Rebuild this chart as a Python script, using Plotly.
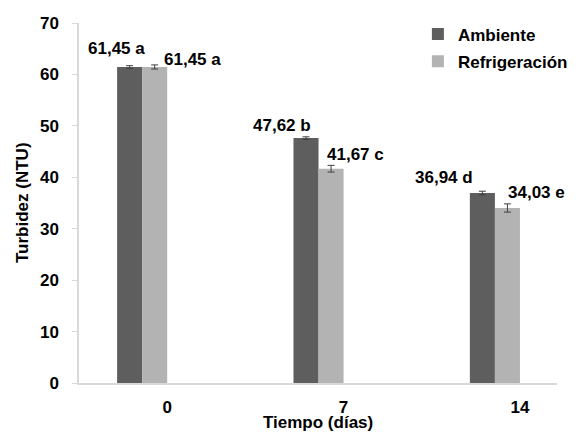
import plotly.graph_objects as go

# ---- data ----
categories = ["0", "7", "14"]
ambiente = [61.45, 47.62, 36.94]
refrigeracion = [61.45, 41.67, 34.03]
err_ambiente = [0.25, 0.25, 0.35]
err_refrigeracion = [0.4, 0.65, 0.8]
letters_ambiente = ["a", "b", "d"]
letters_refrigeracion = ["a", "c", "e"]
series_names = ["Ambiente", "Refrigeración"]
x_title = "Tiempo (días)"
y_title = "Turbidez (NTU)"

# ---- style / layout constants ----
FONT = "Liberation Sans, Arial, sans-serif"
DARK = "#5e5e5e"
LIGHT = "#b3b3b3"
AXIS = "#d9d9d9"
BW = 0.142  # bar width in category units

# label offsets in pixels (xshift, yshift) relative to (category, value)
amb_shift = [(-51, 18), (-62, 13), (-76, 16)]
ref_shift = [(25, 7), (12, 14), (16.5, 15)]


def fmt(v):
    return f"{v:.2f}".replace(".", ",")


bold = dict(family=FONT, size=17, color="black", weight="bold")

fig = go.Figure()
fig.add_trace(go.Bar(
    x=categories, y=ambiente, name=series_names[0], legendgroup="a",
    marker=dict(color=DARK, line=dict(width=0)),
    width=BW, offset=-2 * BW,
    error_y=dict(type="data", array=err_ambiente, color="#404040", thickness=1, width=3.5),
))
fig.add_trace(go.Bar(
    x=categories, y=refrigeracion, name=series_names[1], legendgroup="r",
    marker=dict(color=LIGHT, line=dict(width=0)),
    width=BW, offset=-BW,
    error_y=dict(type="data", array=err_refrigeracion, color="#404040", thickness=1, width=3.5),
))

annotations = []
for i, (v, l, (dx, dy)) in enumerate(zip(ambiente, letters_ambiente, amb_shift)):
    annotations.append(dict(x=i, y=v, xref="x", yref="y", text=f"{fmt(v)} {l}", showarrow=False,
                            xanchor="center", yanchor="middle", xshift=dx, yshift=dy, font=bold))
for i, (v, l, (dx, dy)) in enumerate(zip(refrigeracion, letters_refrigeracion, ref_shift)):
    annotations.append(dict(x=i, y=v, xref="x", yref="y", text=f"{fmt(v)} {l}", showarrow=False,
                            xanchor="center", yanchor="middle", xshift=dx, yshift=dy, font=bold))
# axis titles
annotations.append(dict(x=0.5, y=0, xref="paper", yref="paper", text=x_title, showarrow=False,
                        xanchor="center", yanchor="middle", yshift=-39.5, font=bold))
annotations.append(dict(x=0, y=0.5, xref="paper", yref="paper", text=y_title, showarrow=False,
                        xanchor="center", yanchor="middle", xshift=-57, textangle=-90, font=bold))

# the page body adds an 8px margin, so the figure is 8px smaller on each axis
fig.update_layout(
    width=572, height=424,
    margin=dict(l=71, r=23, t=15, b=48.5, pad=0, autoexpand=False),
    paper_bgcolor="white", plot_bgcolor="white",
    barmode="overlay",
    font=bold,
    showlegend=True,
    legend=dict(x=0.709, y=1.018, xanchor="left", yanchor="top",
                bgcolor="rgba(0,0,0,0)", font=bold,
                itemwidth=30, traceorder="grouped", tracegroupgap=2),
    annotations=annotations,
    xaxis=dict(
        type="category", range=[-0.5, 2.21], automargin=False,
        showline=True, linecolor=AXIS, linewidth=1.5,
        ticks="", showgrid=False, zeroline=False,
        tickfont=bold,
        ticklabelstandoff=8,
    ),
    yaxis=dict(
        range=[0, 70], dtick=10, automargin=False,
        showline=True, linecolor=AXIS, linewidth=1.5,
        ticks="outside", ticklen=5, tickcolor=AXIS,
        showgrid=False, zeroline=False,
        tickfont=bold,
        ticklabelstandoff=10,
    ),
)

fig.write_html("out.html")
